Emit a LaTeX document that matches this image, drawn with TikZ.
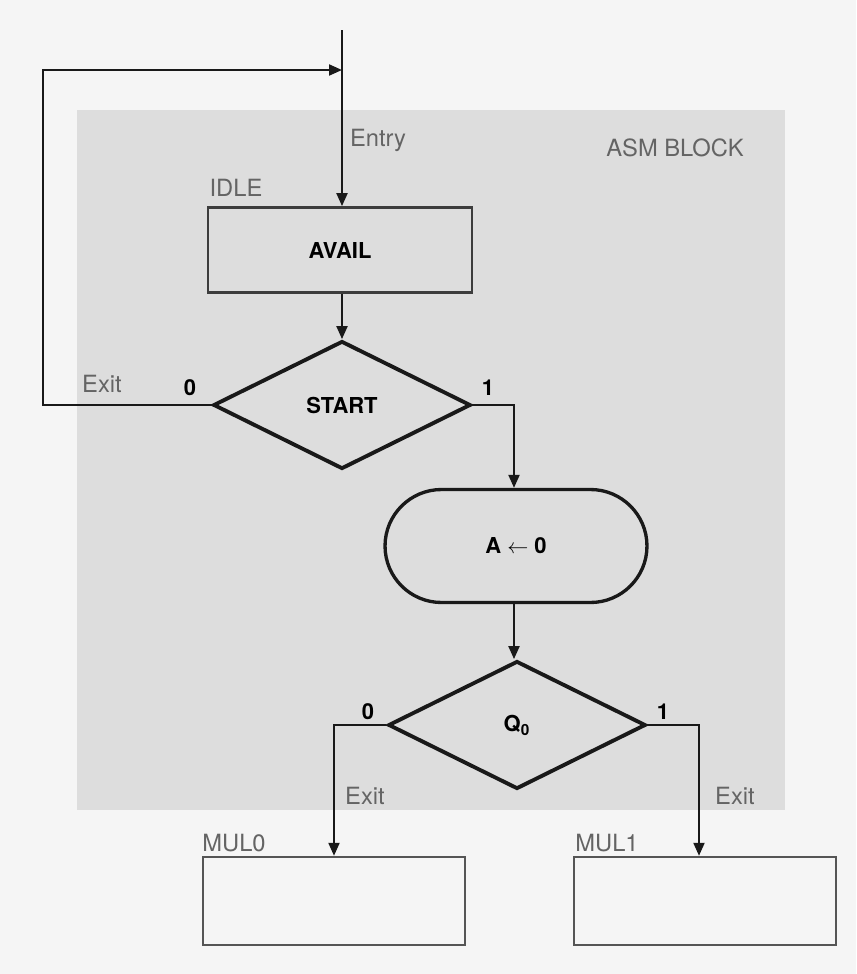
\documentclass[tikz,border=0pt]{standalone}
\usepackage{fontspec}
\setmainfont{TeX Gyre Heros}
\usetikzlibrary{arrows.meta,positioning,shapes.geometric,shapes.misc}
\definecolor{asmpage}{RGB}{245,245,245}
\definecolor{asmblock}{RGB}{221,221,221}
\definecolor{asmlabel}{RGB}{100,100,100}
\definecolor{asmline}{RGB}{25,25,25}
\tikzset{
  flow/.style={-{Triangle[length=2.6mm,width=2.2mm]}, asmline, line width=1.2pt},
  statebox/.style={draw=asmline!85, line width=1.6pt, minimum width=5.28cm,
                   minimum height=1.7cm, inner sep=0pt},
  emptybox/.style={draw=asmlabel!85!black, line width=1.4pt, minimum width=5.24cm,
                   minimum height=1.76cm, inner sep=0pt},
  dec/.style={diamond, draw=asmline, line width=2.2pt, inner sep=0pt,
              minimum width=5.15cm, minimum height=2.56cm},
  cond/.style={rounded rectangle, draw=asmline, line width=1.9pt, inner sep=0pt,
               minimum width=5.24cm, minimum height=2.26cm},
  lbl/.style={font=\fontsize{13.5}{15}\selectfont, text=asmlabel},
  bit/.style={font=\fontsize{12.5}{14}\selectfont\bfseries},
  btxt/.style={font=\fontsize{12.5}{14}\selectfont\bfseries},
}
\begin{document}
\begin{tikzpicture}[x=0.02cm, y=-0.02cm]
  \fill[asmpage] (0,0) rectangle (856,974);
  \useasboundingbox (0,0) rectangle (856,974);
  \fill[asmblock] (77,110) rectangle (785,810);

  % state and decision boxes
  \node[statebox, btxt] (avail) at (340,250) {AVAIL};
  \node[dec, btxt] (start) at (342,405) {START};
  \node[cond, btxt] (clr) at (516,546) {A $\leftarrow$ 0};
  \node[dec, btxt] (qzero) at (517,725) {Q\textsubscript{0}};
  \node[emptybox] (mulzero) at (334,901) {};
  \node[emptybox] (mulone) at (705,901) {};

  \coordinate (entry) at (342,30);
  \coordinate (loop) at (43,70);
  \coordinate (merge) at (342,70);

  % connectors
  \draw[flow] (entry) -- (entry |- avail.north);
  \draw[flow] (start.north |- avail.south) -- (start.north);
  \draw[flow] (start.west) -| (loop) -- (merge);
  \draw[flow] (start.east) -| ([xshift=-0.04cm]clr.north);
  \draw[flow] ([xshift=-0.04cm]clr.south) -- ([xshift=-0.04cm]clr.south |- qzero.north);
  \draw[flow] (qzero.west) -| (mulzero.north);
  \draw[flow] (qzero.east) -| ([xshift=-0.12cm]mulone.north);

  % labels
  \node[lbl] (entrytxt) at (378,140) {Entry};
  \node[lbl] (asmtxt) at (675,148) {ASM BLOCK};
  \node[lbl] (idletxt) at (236,188) {IDLE};
  \node[lbl] (exitl) at (102,384) {Exit};
  \node[bit] (szero) at (190,388) {0};
  \node[bit] (sone) at (488,388) {1};
  \node[bit] (qzerob) at (368,712) {0};
  \node[bit] (qoneb) at (663,712) {1};
  \node[lbl] (exitm) at (365,796) {Exit};
  \node[lbl] (exitr) at (735,796) {Exit};
  \node[lbl] (multxt0) at (234,843) {MUL0};
  \node[lbl] (multxt1) at (607,843) {MUL1};
\end{tikzpicture}
\end{document}
